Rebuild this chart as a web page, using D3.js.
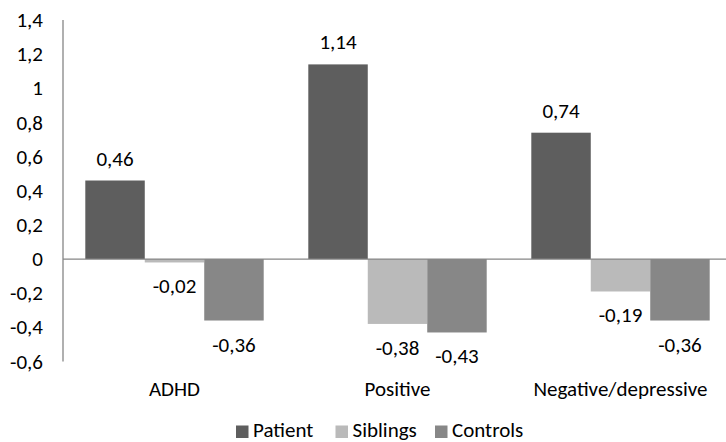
<!DOCTYPE html>
<html><head><meta charset="utf-8">
<script src="https://cdn.jsdelivr.net/npm/d3@7"></script>
<style>body{margin:0;background:#fff}svg{display:block}text{font-family:"Carlito","Open Sans",sans-serif;fill:#000}</style>
</head><body><svg id="c" width="726" height="442"></svg>
<script>
const categories = ["ADHD", "Positive", "Negative/depressive"];
const seriesNames = ["Patient", "Siblings", "Controls"];
const patient = [0.46, 1.14, 0.74];
const siblings = [-0.02, -0.38, -0.19];
const controls = [-0.36, -0.43, -0.36];
const yTicks = [-0.6, -0.4, -0.2, 0, 0.2, 0.4, 0.6, 0.8, 1, 1.2, 1.4];
const colors = ["#5e5e5e", "#bababa", "#878787"];

const values = [patient, siblings, controls];
const svg = d3.select("#c");
const fs = 21;
const fmt = v => String(+v.toFixed(2)).replace(".", ",");

const y = d3.scaleLinear().domain([-0.6, 1.4]).range([361.5, 20]);
const x0 = d3.scaleBand().domain(categories).range([63, 732]);
const catW = x0.bandwidth();
const barW = catW / 3.75;
const x1 = c => x0(c) + barW * 0.375;

svg.append("line").attr("x1", 63).attr("x2", 63).attr("y1", y(1.4)).attr("y2", y(-0.6))
  .attr("stroke", "#868686").attr("stroke-width", 1.3);

svg.append("g").selectAll("text").data(yTicks).join("text")
  .attr("x", 43).attr("y", d => y(d)).attr("dy", "0.34em").attr("text-anchor", "end")
  .style("font-size", fs + "px").text(d => fmt(d));

seriesNames.forEach((s, si) => {
  const g = svg.append("g");
  g.selectAll("rect").data(values[si]).join("rect")
    .attr("x", (d, ci) => x1(categories[ci]) + si * barW)
    .attr("width", barW)
    .attr("y", d => y(Math.max(0, d)))
    .attr("height", d => Math.abs(y(d) - y(0)))
    .attr("fill", colors[si]);
  g.selectAll("text").data(values[si]).join("text")
    .attr("x", (d, ci) => x1(categories[ci]) + si * barW + barW / 2)
    .attr("y", d => d >= 0 ? y(d) - 15 : y(d) + 31)
    .attr("text-anchor", "middle").style("font-size", fs + "px").text(d => fmt(d));
});

svg.append("line").attr("x1", 63).attr("x2", 732).attr("y1", y(0)).attr("y2", y(0))
  .attr("stroke", "#868686").attr("stroke-width", 1.3);

svg.append("g").selectAll("text").data(categories).join("text")
  .attr("x", d => x0(d) + catW / 2).attr("y", 396)
  .attr("text-anchor", "middle").style("font-size", fs + "px").text(d => d);

const lg = svg.append("g");
const slot = 99.5, lx = 236;
seriesNames.forEach((s, i) => {
  lg.append("rect").attr("x", lx + i * slot).attr("y", 425.5).attr("width", 12.5).attr("height", 12.5).attr("fill", colors[i]);
  lg.append("text").attr("x", lx + i * slot + 17).attr("y", 437).style("font-size", fs + "px").text(s);
});
</script></body></html>
